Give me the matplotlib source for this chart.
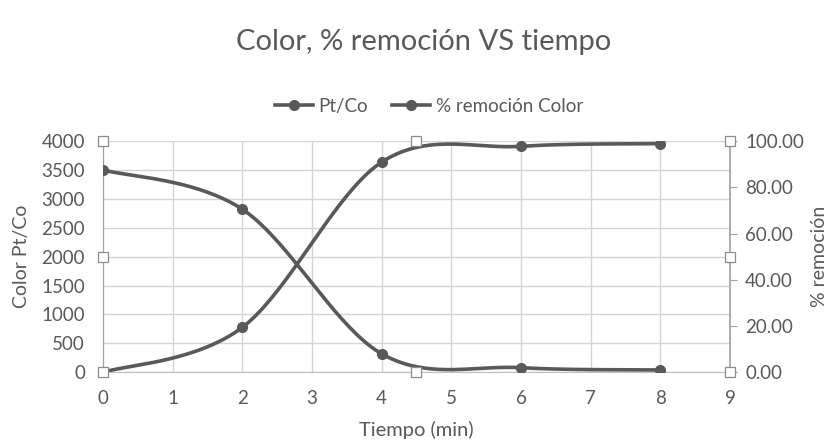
import numpy as np
import matplotlib.pyplot as plt

plt.rcParams['font.family'] = ['Lato', 'DejaVu Sans']

tiempo = [0, 2, 4, 6, 8]
pt_co = [3500, 2820, 320, 80, 40]
remocion = [0.0, 19.43, 90.86, 97.71, 98.86]

x_ticks = list(range(0, 10))
y_left_ticks = list(range(0, 4001, 500))
y_right_ticks = [0, 20, 40, 60, 80, 100]

GRAY = '#595959'
TXT = '#595959'
GRID = '#d4d4d4'


def excel_smooth(x, y, n=40):
  # Excel-style smoothed line: cubic Bezier with control points at 1/6
  x = np.asarray(x, float)
  y = np.asarray(y, float)
  px = np.concatenate([[x[0]], x, [x[-1]]])
  py = np.concatenate([[y[0]], y, [y[-1]]])
  xs, ys = [], []
  t = np.linspace(0, 1, n)
  for i in range(1, len(px) - 2):
    p0 = np.array([px[i], py[i]])
    p3 = np.array([px[i + 1], py[i + 1]])
    p1 = p0 + (np.array([px[i + 1], py[i + 1]]) - np.array([px[i - 1], py[i - 1]])) / 6
    p2 = p3 - (np.array([px[i + 2], py[i + 2]]) - np.array([px[i], py[i]])) / 6
    b = ((1 - t) ** 3)[:, None] * p0 + (3 * (1 - t) ** 2 * t)[:, None] * p1 \
        + (3 * (1 - t) * t ** 2)[:, None] * p2 + (t ** 3)[:, None] * p3
    xs.extend(b[:, 0])
    ys.extend(b[:, 1])
  return np.array(xs), np.array(ys)


fig = plt.figure(figsize=(8.38, 4.44), dpi=100)
ax = fig.add_axes([0.1229, 0.1615, 0.7482, 0.5209])
ax2 = ax.twinx()

ax.set_xlim(0, 9)
ax.set_ylim(0, 4000)
ax2.set_ylim(0, 100)

ax.set_xticks(x_ticks)
ax.set_yticks(y_left_ticks)
ax2.set_yticks(y_right_ticks)
ax2.set_yticklabels(['{:.2f}'.format(v) for v in y_right_ticks])

ax.grid(True, color=GRID, linewidth=1.0)
ax.set_axisbelow(True)

for a in (ax, ax2):
  for s in a.spines.values():
    s.set_visible(False)
ax.spines['left'].set_visible(True)
ax.spines['left'].set_color('#a0a0a0')
ax.spines['bottom'].set_visible(True)
ax.spines['bottom'].set_color('#bfbfbf')
ax2.spines['right'].set_visible(True)
ax2.spines['right'].set_color('#a0a0a0')
ax2.spines['right'].set_linewidth(1.2)

ax.tick_params(axis='both', length=0, labelsize=13.5, colors=TXT)
ax.tick_params(axis='y', pad=13)
ax.tick_params(axis='x', pad=13)
ax2.tick_params(axis='y', direction='out', length=5, color='#a0a0a0', labelsize=13.5, colors=TXT, pad=6)
ax2.tick_params(axis='y', labelcolor=TXT)

# lines
sx, sy = excel_smooth(tiempo, pt_co)
ax.plot(sx, sy, color=GRAY, lw=2.6, zorder=3)
l1, = ax.plot(tiempo, pt_co, color=GRAY, lw=2.6, marker='o', ms=7, linestyle='none', zorder=4)

rx, ry = excel_smooth(tiempo, remocion)
ax2.plot(rx, ry, color=GRAY, lw=2.6, zorder=3)
l2, = ax2.plot(tiempo, remocion, color=GRAY, lw=2.6, marker='o', ms=7, linestyle='none', zorder=4)

# selection handles of the plot area
hx = [0, 0.5, 1, 0, 1, 0, 0.5, 1]
hy = [1, 1, 1, 0.5, 0.5, 0, 0, 0]
ax2.plot(hx, hy, linestyle='none', marker='s', ms=6.5, mfc='white', mec='#8c8c8c', mew=0.9,
         transform=ax2.transAxes, clip_on=False, zorder=10)

ax.set_ylabel('Color Pt/Co', fontsize=14, color=TXT, labelpad=8)
ax2.set_ylabel('% remoción', fontsize=14, color=TXT, labelpad=5)
ax.set_xlabel('Tiempo (min)', fontsize=14.5, color=TXT, labelpad=10)

fig.suptitle('Color, % remoción VS tiempo', x=0.506, y=0.935, fontsize=21, color=TXT)

h1 = plt.Line2D([], [], color=GRAY, lw=2.6, marker='o', ms=7)
h2 = plt.Line2D([], [], color=GRAY, lw=2.6, marker='o', ms=7)
fig.legend([h1, h2], ['Pt/Co', '% remoción Color'], loc='center', bbox_to_anchor=(0.512, 0.76),
           ncol=2, frameon=False, fontsize=13.5, labelcolor=TXT, handlelength=2.0,
           handletextpad=0.3, columnspacing=1.3)

fig.savefig('out.png', dpi=100)
